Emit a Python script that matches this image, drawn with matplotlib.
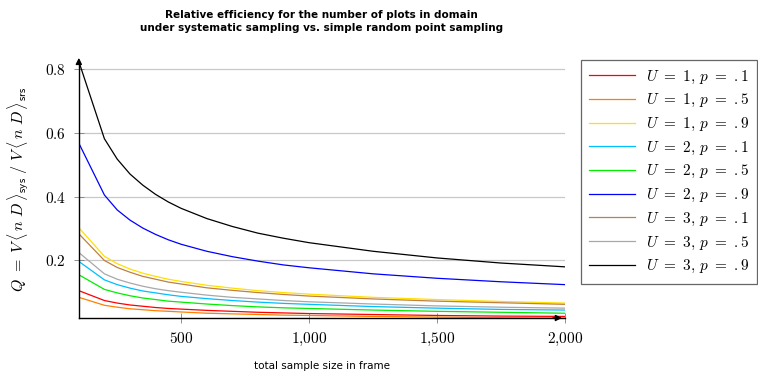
import matplotlib
matplotlib.use("Agg")
import matplotlib.pyplot as plt

plt.rcParams['mathtext.fontset'] = 'cm'

# total sample size in frame
n = [100, 200, 250, 300, 350, 400, 450, 500, 600, 700, 800, 900, 1000, 1250, 1500, 1750, 2000]

# relative efficiency Q
u1_p1 = [0.104, 0.073, 0.065, 0.059, 0.055, 0.051, 0.048, 0.046, 0.042, 0.039, 0.036, 0.034, 0.032, 0.029, 0.026, 0.024, 0.023]
u1_p5 = [0.083, 0.058, 0.052, 0.047, 0.044, 0.041, 0.039, 0.037, 0.033, 0.031, 0.029, 0.027, 0.026, 0.023, 0.021, 0.019, 0.018]
u1_p9 = [0.302, 0.212, 0.189, 0.172, 0.159, 0.149, 0.140, 0.133, 0.121, 0.112, 0.104, 0.098, 0.093, 0.083, 0.076, 0.070, 0.065]
u2_p1 = [0.196, 0.138, 0.123, 0.112, 0.103, 0.097, 0.091, 0.086, 0.079, 0.073, 0.068, 0.064, 0.061, 0.054, 0.049, 0.045, 0.043]
u2_p5 = [0.154, 0.108, 0.097, 0.088, 0.081, 0.076, 0.071, 0.068, 0.062, 0.057, 0.053, 0.050, 0.048, 0.043, 0.039, 0.036, 0.033]
u2_p9 = [0.568, 0.405, 0.358, 0.326, 0.301, 0.281, 0.264, 0.250, 0.228, 0.211, 0.197, 0.185, 0.176, 0.157, 0.143, 0.132, 0.123]
u3_p1 = [0.283, 0.199, 0.177, 0.162, 0.149, 0.140, 0.131, 0.125, 0.113, 0.105, 0.098, 0.092, 0.087, 0.078, 0.071, 0.066, 0.061]
u3_p5 = [0.224, 0.157, 0.140, 0.128, 0.118, 0.110, 0.104, 0.099, 0.090, 0.083, 0.078, 0.073, 0.069, 0.062, 0.056, 0.052, 0.049]
u3_p9 = [0.825, 0.582, 0.518, 0.471, 0.436, 0.407, 0.383, 0.363, 0.331, 0.306, 0.285, 0.269, 0.255, 0.228, 0.207, 0.191, 0.179]

series = [u1_p1, u1_p5, u1_p9, u2_p1, u2_p5, u2_p9, u3_p1, u3_p5, u3_p9]
labels = ["$U\\ =\\ 1,\\, p\\ =\\ .1$", "$U\\ =\\ 1,\\, p\\ =\\ .5$", "$U\\ =\\ 1,\\, p\\ =\\ .9$",
          "$U\\ =\\ 2,\\, p\\ =\\ .1$", "$U\\ =\\ 2,\\, p\\ =\\ .5$", "$U\\ =\\ 2,\\, p\\ =\\ .9$",
          "$U\\ =\\ 3,\\, p\\ =\\ .1$", "$U\\ =\\ 3,\\, p\\ =\\ .5$", "$U\\ =\\ 3,\\, p\\ =\\ .9$"]
colors = ["#ff0000", "#ff8000", "#ffe000", "#00bfff", "#00ee00", "#0000ff", "#bf8040", "#a8a8a8", "#000000"]

xticks = [500, 1000, 1500, 2000]
xticklabels = ["$500$", "$1{,}000$", "$1{,}500$", "$2{,}000$"]
yticks = [0.2, 0.4, 0.6, 0.8]
yticklabels = ["$0.2$", "$0.4$", "$0.6$", "$0.8$"]

fig = plt.figure(figsize=(7.58, 3.75), dpi=100)
ax = fig.add_axes([0.104, 0.152, 0.641, 0.684])

for ys, lab, c in zip(series, labels, colors):
    ax.plot(n, ys, color=c, lw=0.9, label=lab)

ymin = min(min(s) for s in series)
ymax = max(max(s) for s in series)
ax.set_xlim(n[0], n[-1])
ax.set_ylim(ymin, ymax)

ax.set_xticks(xticks)
ax.set_xticklabels(xticklabels, fontsize=11)
ax.set_yticks(yticks)
ax.set_yticklabels(yticklabels, fontsize=11)
ax.tick_params(direction='inout', length=7, color='#808080', width=0.6, pad=6)
ax.grid(axis='y', color='#c8c8c8', lw=0.9)
ax.set_axisbelow(True)

for s in ['top', 'right']:
    ax.spines[s].set_visible(False)
for s in ['left', 'bottom']:
    ax.spines[s].set_linewidth(1.0)
# arrow tips on the axes
ax.annotate('', xy=(0, 1.025), xytext=(0, 0.98), xycoords='axes fraction',
            arrowprops=dict(arrowstyle='-|>', color='black', lw=1.0, mutation_scale=9))
ax.annotate('', xy=(1.0, 0), xytext=(0.97, 0), xycoords='axes fraction',
            arrowprops=dict(arrowstyle='-|>', color='black', lw=1.0, mutation_scale=9))

ax.set_ylabel("$Q\\ =\\ V\\,\\langle\\, n\\ D\\,\\rangle_{\\mathsf{sys}}\\ /\\ V\\,\\langle\\, n\\ D\\,\\rangle_{\\mathsf{srs}}$",
              fontsize=11.5, labelpad=10)
ax.set_xlabel("total sample size in frame", fontsize=7.5, labelpad=9)
ax.set_title("Relative efficiency for the number of plots in domain\n"
             "under systematic sampling vs. simple random point sampling",
             fontsize=7.5, fontweight='bold', pad=22, linespacing=1.4)

leg = ax.legend(loc='upper left', bbox_to_anchor=(1.033, 1.006), borderaxespad=0,
                fontsize=11, frameon=True, fancybox=False, edgecolor='#404040',
                handlelength=3.0, labelspacing=0.43, borderpad=0.55, handletextpad=0.7)
leg.get_frame().set_linewidth(0.9)

fig.savefig("out.png", dpi=100)
